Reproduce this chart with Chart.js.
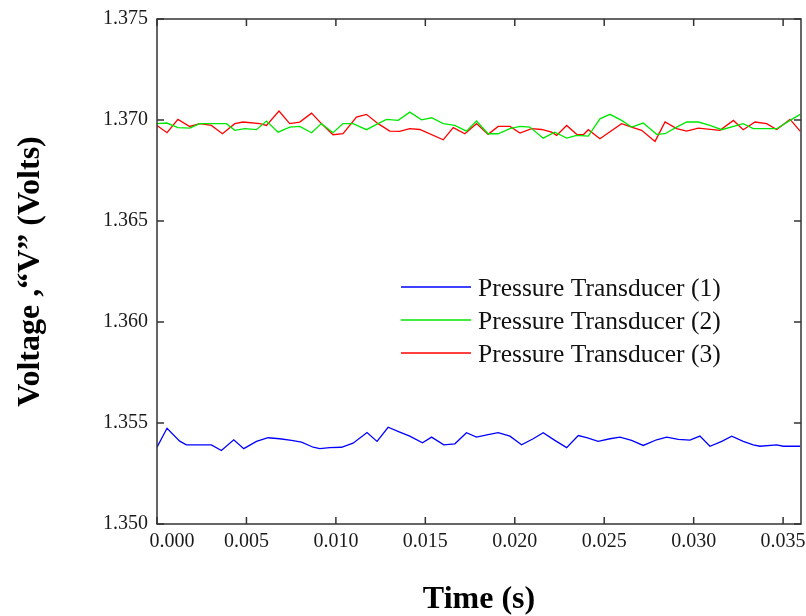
<!DOCTYPE html>
<html>
<head>
<meta charset="utf-8">
<script src="https://cdn.jsdelivr.net/npm/chart.js@4.4.1/dist/chart.umd.min.js"></script>
<style>
html, body { margin: 0; padding: 0; background: #fff; }
canvas { display: block; }
</style>
</head>
<body>
<canvas id="c" width="806" height="616"></canvas>
<script>
// Transducer (1): sample times (s) and output voltage (V)
const time1 = [0, 0.00056, 0.00127, 0.00164, 0.00304, 0.00360, 0.00429, 0.00485, 0.00556, 0.00621,
  0.00686, 0.00752, 0.00808, 0.00873, 0.00910, 0.00966, 0.01031, 0.01096, 0.01174, 0.01230,
  0.01292, 0.01357, 0.01413, 0.01484, 0.01535, 0.01603, 0.01665, 0.01730, 0.01786, 0.01851,
  0.01907, 0.01973, 0.02038, 0.02103, 0.02159, 0.02224, 0.02290, 0.02355, 0.02402, 0.02466,
  0.02532, 0.02588, 0.02653, 0.02718, 0.02793, 0.02849, 0.02914, 0.02979, 0.03035, 0.03091,
  0.03157, 0.03213, 0.03277, 0.03333, 0.03371, 0.03464, 0.03501, 0.03595];
const volts1 = [1.35380, 1.35474, 1.35410, 1.35392, 1.35392, 1.35364, 1.35417, 1.35373, 1.35409, 1.35427,
  1.35422, 1.35414, 1.35405, 1.35380, 1.35373, 1.35378, 1.35380, 1.35400, 1.35453, 1.35409,
  1.35479, 1.35455, 1.35435, 1.35402, 1.35430, 1.35392, 1.35397, 1.35452, 1.35430, 1.35442,
  1.35452, 1.35435, 1.35392, 1.35422, 1.35452, 1.35414, 1.35378, 1.35438, 1.35427, 1.35409,
  1.35422, 1.35430, 1.35414, 1.35389, 1.35417, 1.35430, 1.35419, 1.35415, 1.35435, 1.35385,
  1.35409, 1.35435, 1.35409, 1.35392, 1.35385, 1.35392, 1.35385, 1.35385];

// Transducer (2)
const time2 = [0, 0.00056, 0.00117, 0.00183, 0.00239, 0.00388, 0.00435, 0.00491, 0.00556, 0.00612,
  0.00677, 0.00742, 0.00798, 0.00864, 0.00919, 0.00984, 0.01040, 0.01096, 0.01171, 0.01236,
  0.01283, 0.01348, 0.01413, 0.01479, 0.01535, 0.01600, 0.01665, 0.01730, 0.01786, 0.01851,
  0.01907, 0.01973, 0.02029, 0.02084, 0.02159, 0.02224, 0.02290, 0.02346, 0.02411, 0.02476,
  0.02532, 0.02597, 0.02653, 0.02718, 0.02793, 0.02840, 0.02905, 0.02961, 0.03026, 0.03091,
  0.03157, 0.03277, 0.03333, 0.03464, 0.03539, 0.03595];
const volts2 = [1.36982, 1.36985, 1.36962, 1.36960, 1.36982, 1.36982, 1.36949, 1.36957, 1.36952, 1.36995,
  1.36940, 1.36965, 1.36968, 1.36937, 1.36982, 1.36937, 1.36982, 1.36982, 1.36952, 1.36982,
  1.37003, 1.36998, 1.37039, 1.37001, 1.37011, 1.36982, 1.36973, 1.36945, 1.36995, 1.36932,
  1.36932, 1.36957, 1.36968, 1.36965, 1.36910, 1.36940, 1.36910, 1.36924, 1.36920, 1.37006,
  1.37028, 1.36998, 1.36965, 1.36985, 1.36929, 1.36932, 1.36965, 1.36990, 1.36990, 1.36973,
  1.36952, 1.36982, 1.36957, 1.36957, 1.36998, 1.37028];

// Transducer (3)
const time3 = [0, 0.00056, 0.00117, 0.00183, 0.00239, 0.00304, 0.00366, 0.00435, 0.00481, 0.00574,
  0.00612, 0.00682, 0.00742, 0.00798, 0.00864, 0.00919, 0.00984, 0.01040, 0.01115, 0.01171,
  0.01236, 0.01301, 0.01357, 0.01413, 0.01469, 0.01600, 0.01656, 0.01721, 0.01786, 0.01851,
  0.01907, 0.01973, 0.02029, 0.02094, 0.02150, 0.02206, 0.02234, 0.02290, 0.02346, 0.02383,
  0.02411, 0.02476, 0.02597, 0.02653, 0.02709, 0.02784, 0.02840, 0.02905, 0.02961, 0.03026,
  0.03147, 0.03222, 0.03277, 0.03343, 0.03408, 0.03464, 0.03539, 0.03595];
const volts3 = [1.36973, 1.36937, 1.37003, 1.36968, 1.36982, 1.36973, 1.36932, 1.36982, 1.36990, 1.36982,
  1.36973, 1.37044, 1.36982, 1.36990, 1.37034, 1.36982, 1.36927, 1.36932, 1.37014, 1.37028,
  1.36982, 1.36945, 1.36944, 1.36957, 1.36953, 1.36902, 1.36962, 1.36932, 1.36982, 1.36929,
  1.36968, 1.36968, 1.36935, 1.36957, 1.36953, 1.36940, 1.36924, 1.36973, 1.36929, 1.36927,
  1.36952, 1.36907, 1.36982, 1.36965, 1.36949, 1.36894, 1.36990, 1.36957, 1.36945, 1.36960,
  1.36949, 1.36998, 1.36952, 1.36990, 1.36982, 1.36953, 1.37003, 1.36945];

const seriesNames = ['Pressure Transducer (1)', 'Pressure Transducer (2)', 'Pressure Transducer (3)'];
const xTickValues = [0, 0.005, 0.010, 0.015, 0.020, 0.025, 0.030, 0.035];
const yTickValues = [1.350, 1.355, 1.360, 1.365, 1.370, 1.375];

const SERIF = '"Liberation Serif", "Times New Roman", serif';
const colors = ['#0000ff', '#00e800', '#ff0000'];

const toPoints = (ts, vs) => ts.map((t, i) => ({ x: t, y: vs[i] }));

// Closed box with inward tick marks on all four sides
const framePlugin = {
  id: 'frameWithTicks',
  afterDatasetsDraw(chart) {
    const { ctx, chartArea: a, scales: { x, y } } = chart;
    const len = 7;
    ctx.save();
    ctx.strokeStyle = '#333';
    ctx.lineWidth = 1.5;
    ctx.strokeRect(a.left, a.top, a.right - a.left, a.bottom - a.top);
    ctx.beginPath();
    x.ticks.forEach((tk, i) => {
      const px = x.getPixelForTick(i);
      ctx.moveTo(px, a.bottom); ctx.lineTo(px, a.bottom - len);
      ctx.moveTo(px, a.top); ctx.lineTo(px, a.top + len);
    });
    y.ticks.forEach((tk, i) => {
      const py = y.getPixelForTick(i);
      ctx.moveTo(a.left, py); ctx.lineTo(a.left + len, py);
      ctx.moveTo(a.right, py); ctx.lineTo(a.right - len, py);
    });
    ctx.stroke();
    ctx.restore();
  }
};

// Legend placed inside the plot area
const insideLegend = {
  id: 'insideLegend',
  afterDraw(chart) {
    const { ctx, chartArea: a } = chart;
    const x0 = a.left + 244, y0 = a.top + 268, gap = 33;
    ctx.save();
    ctx.font = '25.5px ' + SERIF;
    ctx.textBaseline = 'middle';
    ctx.textAlign = 'left';
    chart.data.datasets.forEach((ds, i) => {
      const yy = y0 + i * gap;
      ctx.strokeStyle = ds.borderColor;
      ctx.lineWidth = 1.5;
      ctx.beginPath();
      ctx.moveTo(x0, yy);
      ctx.lineTo(x0 + 70, yy);
      ctx.stroke();
      ctx.fillStyle = '#111';
      ctx.fillText(ds.label, x0 + 77, yy + 2);
    });
    ctx.restore();
  }
};

new Chart(document.getElementById('c'), {
  type: 'line',
  data: {
    datasets: [
      { label: seriesNames[0], data: toPoints(time1, volts1), borderColor: colors[0] },
      { label: seriesNames[1], data: toPoints(time2, volts2), borderColor: colors[1] },
      { label: seriesNames[2], data: toPoints(time3, volts3), borderColor: colors[2] }
    ].map(ds => Object.assign(ds, { borderWidth: 1.3, pointRadius: 0, tension: 0, fill: false }))
  },
  options: {
    responsive: false,
    devicePixelRatio: 1,
    animation: false,
    layout: { padding: { top: 19, right: 5, bottom: 0, left: 0 } },
    plugins: { legend: { display: false }, tooltip: { enabled: false } },
    scales: {
      x: {
        type: 'linear',
        min: 0,
        max: 0.036,
        afterBuildTicks: s => { s.ticks = xTickValues.map(v => ({ value: v })); },
        afterFit: s => { s.height = 92; s.paddingLeft = 0; s.paddingRight = 0; },
        grid: { display: false, drawTicks: false },
        border: { display: false },
        ticks: {
          autoSkip: false,
          maxRotation: 0,
          padding: 6,
          color: '#1a1a1a',
          font: { family: SERIF, size: 20 },
          callback: v => (v === 0 ? '      ' : '') + v.toFixed(3)
        },
        title: {
          display: true,
          text: 'Time (s)',
          color: '#000',
          font: { family: SERIF, size: 32, weight: 'bold' },
          padding: { top: 0, bottom: -3 }
        }
      },
      y: {
        type: 'linear',
        min: 1.350,
        max: 1.375,
        afterBuildTicks: s => { s.ticks = yTickValues.map(v => ({ value: v })); },
        afterFit: s => { s.width = 157; s.paddingTop = 0; s.paddingBottom = 0; },
        grid: { display: false, drawTicks: false },
        border: { display: false },
        ticks: {
          padding: 9,
          color: '#1a1a1a',
          font: { family: SERIF, size: 20 },
          callback: v => v.toFixed(3)
        },
        title: {
          display: true,
          text: 'Voltage ,\u201CV\u201D (Volts)',
          color: '#000',
          font: { family: SERIF, size: 32, weight: 'bold' },
          padding: { top: 12, bottom: 0 }
        }
      }
    }
  },
  plugins: [framePlugin, insideLegend]
});
</script>
</body>
</html>
